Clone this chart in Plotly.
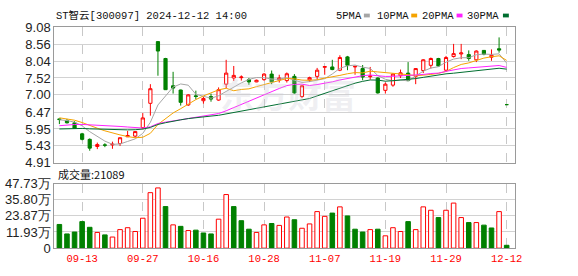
import plotly.graph_objects as go
import pandas as pd

# ---------------- data ----------------
dates = [
    "2024-09-10", "2024-09-11", "2024-09-12", "2024-09-13", "2024-09-18", "2024-09-19", "2024-09-20",
    "2024-09-23", "2024-09-24", "2024-09-25", "2024-09-26", "2024-09-27", "2024-09-30", "2024-10-08",
    "2024-10-09", "2024-10-10", "2024-10-11", "2024-10-14", "2024-10-15", "2024-10-16", "2024-10-17",
    "2024-10-18", "2024-10-21", "2024-10-22", "2024-10-23", "2024-10-24", "2024-10-25", "2024-10-28",
    "2024-10-29", "2024-10-30", "2024-10-31", "2024-11-01", "2024-11-04", "2024-11-05", "2024-11-06",
    "2024-11-07", "2024-11-08", "2024-11-11", "2024-11-12", "2024-11-13", "2024-11-14", "2024-11-15",
    "2024-11-18", "2024-11-19", "2024-11-20", "2024-11-21", "2024-11-22", "2024-11-25", "2024-11-26",
    "2024-11-27", "2024-11-28", "2024-11-29", "2024-12-02", "2024-12-03", "2024-12-04", "2024-12-05",
    "2024-12-06", "2024-12-09", "2024-12-10", "2024-12-12",
]
opens = [6.26, 6.21, 6.14, 5.80, 5.63, 5.41, 5.46, 5.46, 5.50, 5.71,
         5.73, 5.99, 6.74, 8.64, 8.12, 7.28, 7.15, 6.69, 6.97, 6.82,
         6.95, 6.84, 7.33, 7.52, 7.53, 7.47, 7.40, 7.47, 7.64, 7.46,
         7.44, 7.57, 6.95, 7.46, 7.57, 7.85, 7.86, 7.76, 8.17, 7.86,
         7.81, 7.56, 7.52, 7.14, 7.30, 7.59, 7.67, 7.57, 7.75, 7.91,
         8.12, 7.76, 8.18, 8.26, 8.24, 8.08, 8.37, 8.16, 8.42, 6.70]
highs = [6.27, 6.26, 6.19, 5.83, 5.66, 5.53, 5.51, 5.56, 5.69, 5.89,
         5.88, 6.44, 7.33, 8.65, 8.14, 7.71, 7.16, 7.02, 7.13, 6.94,
         7.04, 7.23, 8.08, 7.89, 7.60, 7.52, 7.47, 7.67, 7.75, 7.62,
         7.69, 7.64, 7.30, 7.56, 7.83, 7.88, 8.08, 8.22, 8.20, 7.89,
         7.92, 7.86, 7.54, 7.38, 7.66, 7.78, 8.01, 7.82, 8.10, 8.15,
         8.14, 8.20, 8.57, 8.57, 8.37, 8.37, 8.38, 8.40, 8.77, 6.70]
lows = [6.10, 6.12, 5.96, 5.60, 5.28, 5.33, 5.39, 5.34, 5.43, 5.70,
        5.68, 5.94, 6.36, 7.59, 7.15, 7.04, 6.67, 6.66, 6.86, 6.73,
        6.79, 6.82, 7.21, 7.43, 7.44, 7.31, 7.39, 7.43, 7.33, 7.38,
        7.38, 7.04, 6.90, 7.40, 7.47, 7.62, 7.76, 7.73, 7.76, 7.62,
        7.45, 7.47, 7.04, 7.04, 7.25, 7.52, 7.42, 7.33, 7.67, 7.81,
        7.87, 7.73, 8.15, 8.10, 8.05, 8.01, 8.22, 8.05, 8.30, 6.70]
closes = [6.24, 6.14, 5.97, 5.63, 5.36, 5.47, 5.45, 5.48, 5.68, 5.75,
          5.87, 6.29, 7.19, 8.35, 7.16, 7.21, 6.77, 7.00, 6.95, 6.89,
          6.87, 7.16, 7.67, 7.60, 7.55, 7.40, 7.45, 7.64, 7.40, 7.52,
          7.65, 7.06, 7.28, 7.53, 7.76, 7.87, 7.78, 8.15, 7.91, 7.88,
          7.55, 7.58, 7.06, 7.33, 7.64, 7.68, 7.44, 7.81, 8.08, 8.12,
          7.89, 8.15, 8.27, 8.29, 8.12, 8.35, 8.25, 8.22, 8.38, 6.70]
# volume in 万 (10,000) units
volumes_wan = [17.5, 10.5, 11.9, 19.6, 15.4, 11.6, 9.8, 8.2, 13.7, 15.1,
               12.3, 22.1, 41.0, 44.5, 30.7, 17.2, 16.1, 13.0, 13.3, 11.2,
               10.5, 21.4, 39.6, 30.7, 20.3, 14.0, 11.6, 17.2, 18.2, 16.8,
               23.0, 21.0, 14.7, 17.9, 27.0, 23.5, 25.9, 30.5, 23.8, 14.0,
               11.9, 13.7, 14.0, 9.1, 15.1, 12.3, 19.6, 13.7, 30.5, 28.0,
               22.6, 28.0, 33.3, 22.6, 18.9, 18.9, 17.0, 14.9, 27.0, 2.1089]
# closes before the visible window, estimated from where the moving averages start
prior_closes = [5.80, 5.75, 5.70, 5.72, 5.78, 5.74, 5.70, 5.76, 5.80, 5.75,
                5.70, 5.65, 5.60, 5.55, 5.62, 5.70, 5.85, 5.95, 6.10, 6.34,
                6.45, 6.40, 6.35, 6.30, 6.28, 6.25, 6.22, 6.20, 6.25]

price_ticks = [4.91, 5.43, 5.95, 6.47, 7.00, 7.52, 8.04, 8.56, 9.08]
volume_ticks = [0, 11.93, 23.87, 35.80, 47.73]
volume_tick_text = ["0", "11.93万", "23.87万", "35.80万", "47.73万"]
label_dates = ["2024-09-13", "2024-09-27", "2024-10-16", "2024-10-28",
               "2024-11-07", "2024-11-19", "2024-11-29", "2024-12-12"]
ma_periods = [5, 10, 20, 30]
ma_names = ["5PMA", "10PMA", "20PMA", "30PMA"]
ma_colors = ["#a6a6a6", "#f5a300", "#ff22ff", "#006e30"]

title_text = "ST智云[300097] 2024-12-12 14:00"

RED = "#ff0000"
GREEN = "#008000"

# ---------------- derived ----------------
all_closes = pd.Series(prior_closes + closes)
n_prior = len(prior_closes)
mas = {p: all_closes.rolling(p).mean().iloc[n_prior:].tolist() for p in ma_periods}

prev_closes = [prior_closes[-1]] + closes[:-1]
vol_up = [c >= pc for c, pc in zip(closes, prev_closes)]
vol_fill = ["#ffffff" if u else GREEN for u in vol_up]
vol_line = [RED if u else GREEN for u in vol_up]

W, H = 578, 276
def px(x):
    return x / W
def py(y):
    return 1 - y / H

fig = go.Figure()

fig.add_trace(go.Candlestick(
    x=dates, open=opens, high=highs, low=lows, close=closes,
    increasing=dict(line=dict(color=RED, width=1), fillcolor="#ffffff"),
    decreasing=dict(line=dict(color=GREEN, width=1), fillcolor=GREEN),
    whiskerwidth=0, xaxis="x", yaxis="y", showlegend=False, hoverinfo="skip",
))

for p, name, col in zip(ma_periods, ma_names, ma_colors):
    fig.add_trace(go.Scatter(
        x=dates, y=mas[p], mode="lines", name=name,
        line=dict(color=col, width=1), xaxis="x", yaxis="y",
        showlegend=False, hoverinfo="skip",
    ))

fig.add_trace(go.Bar(
    x=dates, y=volumes_wan, width=0.6,
    marker=dict(color=vol_fill, line=dict(color=vol_line, width=1)),
    xaxis="x2", yaxis="y2", showlegend=False, hoverinfo="skip",
))

tick_font = dict(family="Liberation Sans, Arial", size=13, color="#222222")
x_common = dict(
    type="category", range=[-0.68, 60.07], domain=[px(55), px(522)],
    tickvals=label_dates, ticktext=[d[5:] for d in label_dates],
    showgrid=True, gridcolor="#c8c8c8", griddash="dash", gridwidth=1,
    showline=True, linecolor="#9a9a9a", linewidth=1, mirror=True,
    ticks="", zeroline=False, fixedrange=True,
)
y_common = dict(
    showgrid=True, gridcolor="#d2d2d2", gridwidth=1,
    showline=True, linecolor="#9a9a9a", linewidth=1, mirror=True,
    ticks="", zeroline=False, tickfont=tick_font, fixedrange=True,
)

fig.update_layout(
    width=W, height=H, autosize=False,
    margin=dict(l=0, r=0, t=0, b=0),
    paper_bgcolor="white", plot_bgcolor="white",
    boxgap=0.4, bargap=0.4,
    xaxis=dict(**x_common, anchor="y", showticklabels=False,
               rangeslider=dict(visible=False)),
    yaxis=dict(**y_common, domain=[py(164.7), py(21.5)], range=[4.91, 9.08],
               tickvals=price_ticks, ticktext=[f"{v:.2f}" for v in price_ticks]),
    xaxis2=dict(**x_common, anchor="y2", showticklabels=True,
                tickfont=dict(family="Liberation Mono, monospace", size=10.5, color=RED)),
    yaxis2=dict(**y_common, domain=[py(255), py(186.7)], range=[0, 47.73],
                tickvals=volume_ticks, ticktext=volume_tick_text),
)

mono = "Liberation Mono, Noto Sans CJK SC, monospace"
annotations = [
    dict(x=px(55), y=py(9), xref="paper", yref="paper", xanchor="left", yanchor="middle",
         text=title_text, showarrow=False, font=dict(family=mono, size=10.5, color="#111111")),
    dict(x=px(57), y=py(176.5), xref="paper", yref="paper", xanchor="left", yanchor="middle",
         text=f"成交量:{int(round(volumes_wan[-1] * 10000))}", showarrow=False,
         font=dict(family="Noto Sans CJK SC, sans-serif", size=11, color="#111111")),
    dict(x=px(292), y=py(92), xref="paper", yref="paper", xanchor="center", yanchor="middle",
         text="<b>东方财富</b>", showarrow=False,
         font=dict(family="Noto Sans CJK SC, sans-serif", size=34, color="rgba(200,200,212,0.28)")),
]
legend_x = [338.5, 380, 426, 472]
square_x = [369, 417, 463, 510]
shapes = []
for name, col, lx, sx in zip(ma_names, ma_colors, legend_x, square_x):
    annotations.append(dict(x=px(lx), y=py(9), xref="paper", yref="paper",
                            xanchor="left", yanchor="middle", text=name, showarrow=False,
                            font=dict(family=mono, size=10.5, color="#111111")))
    shapes.append(dict(type="rect", xref="paper", yref="paper",
                       x0=px(sx), x1=px(sx + 6), y0=py(11), y1=py(7),
                       fillcolor=col, line=dict(width=0)))
fig.update_layout(annotations=annotations, shapes=shapes)

fig.write_html("out.html")
